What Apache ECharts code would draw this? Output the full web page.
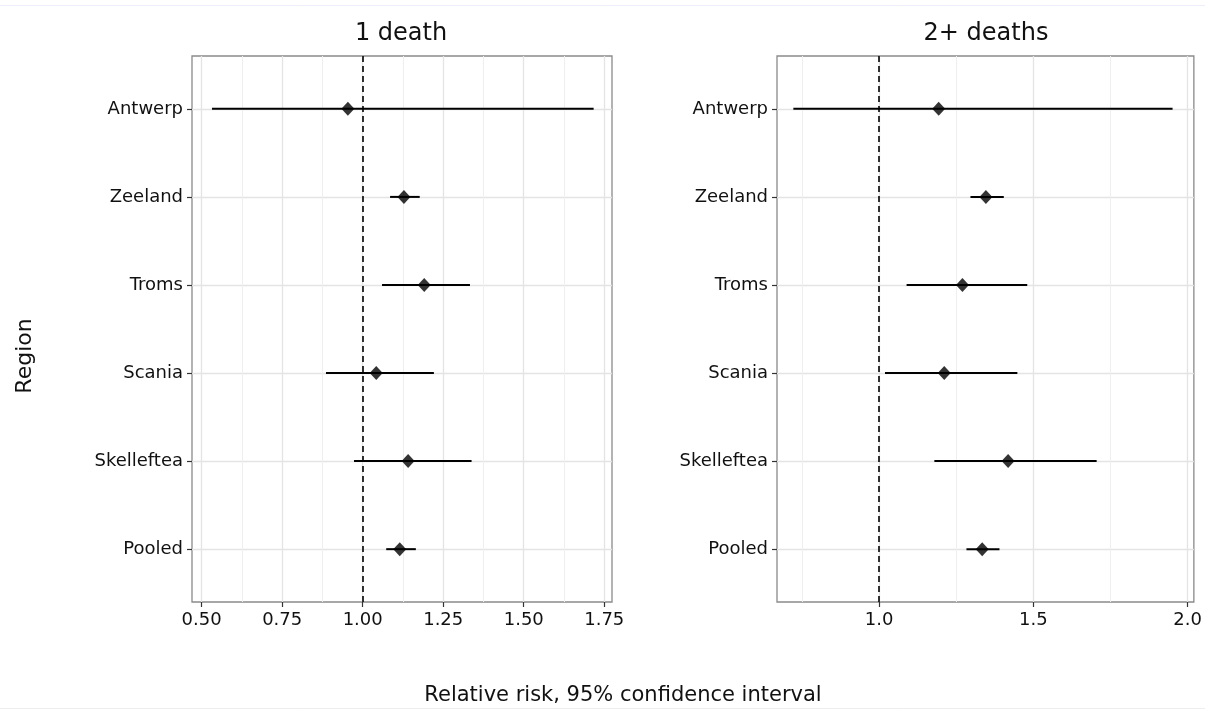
<!DOCTYPE html>
<html>
<head>
<meta charset="utf-8">
<script src="https://cdn.jsdelivr.net/npm/echarts@6/dist/echarts.min.js"></script>
<style>
  html, body { margin: 0; padding: 0; background: #fff; }
  #chart { width: 1205px; height: 710px; }
</style>
</head>
<body>
<div id="chart"></div>
<script>
// regions, top to bottom
var regions = ['Antwerp', 'Zeeland', 'Troms', 'Scania', 'Skelleftea', 'Pooled'];

// 1 death: relative risk and 95% CI
var est1 = [0.954, 1.128, 1.191, 1.042, 1.141, 1.115];
var low1 = [0.532, 1.085, 1.060, 0.886, 0.973, 1.073];
var high1 = [1.717, 1.177, 1.333, 1.221, 1.338, 1.165];

// 2+ deaths
var est2 = [1.193, 1.346, 1.270, 1.211, 1.418, 1.334];
var low2 = [0.722, 1.296, 1.089, 1.019, 1.179, 1.283];
var high2 = [1.951, 1.404, 1.480, 1.448, 1.705, 1.390];

var ticks1 = [0.5, 0.75, 1.0, 1.25, 1.5, 1.75];
var minor1 = [0.625, 0.875, 1.125, 1.375, 1.625];
var ticks2 = [1.0, 1.5, 2.0];
var minor2 = [0.75, 1.25, 1.75];
var regionIdx = [0, 1, 2, 3, 4, 5];

var FONT = 'DejaVu Sans';

function pairs(a, b) {
	var out = [];
	for (var i = 0; i < a.length; i++) out.push([a[i], b[i]]);
	return out;
}

function majorX(grid, min, max, ticks, digits) {
	return {
		type: 'value', gridIndex: grid, position: 'bottom', min: min, max: max,
		axisLine: { show: false, onZero: false },
		axisTick: { show: true, length: 5, customValues: ticks, lineStyle: { color: '#333', width: 1.2 } },
		axisLabel: {
			customValues: ticks, margin: 9, color: '#111', fontSize: 18, fontFamily: FONT,
			formatter: function (v) { return v.toFixed(digits); }
		},
		splitLine: { show: true, lineStyle: { color: '#e4e4e4', width: 1.3 } }
	};
}

function minorX(grid, min, max, ticks) {
	return {
		type: 'value', gridIndex: grid, position: 'bottom', min: min, max: max,
		axisLine: { show: false, onZero: false },
		axisTick: { show: false, customValues: ticks },
		axisLabel: { show: false, customValues: ticks },
		splitLine: { show: true, lineStyle: { color: '#efefef', width: 1 } }
	};
}

function regionY(grid) {
	return {
		type: 'value', gridIndex: grid, min: -0.6, max: 5.6, inverse: true,
		axisLine: { show: false, onZero: false },
		axisTick: { show: true, length: 5, customValues: regionIdx, lineStyle: { color: '#333', width: 1.2 } },
		axisLabel: {
			customValues: regionIdx, margin: 9, color: '#111', fontSize: 18, fontFamily: FONT,
			formatter: function (v) { return regions[v]; }
		},
		splitLine: { show: true, lineStyle: { color: '#e4e4e4', width: 1.3 } }
	};
}

function errorBars(xIdx, yIdx, low, high) {
	var data = [];
	for (var i = 0; i < low.length; i++) data.push([low[i], high[i], i]);
	return {
		type: 'custom', xAxisIndex: xIdx, yAxisIndex: yIdx, z: 3,
		encode: { x: [0, 1], y: 2 },
		data: data,
		renderItem: function (params, api) {
			var a = api.coord([api.value(0), api.value(2)]);
			var b = api.coord([api.value(1), api.value(2)]);
			return {
				type: 'line',
				shape: { x1: a[0], y1: a[1], x2: b[0], y2: b[1] },
				style: { stroke: '#000', lineWidth: 2 }
			};
		}
	};
}

function points(xIdx, yIdx, est) {
	return {
		type: 'scatter', xAxisIndex: xIdx, yAxisIndex: yIdx, z: 4,
		symbol: 'diamond', symbolSize: [13, 14],
		itemStyle: { color: '#000' },
		data: pairs(est, regionIdx),
		markLine: {
			silent: true, symbol: 'none', label: { show: false },
			lineStyle: { color: '#000', type: [6, 4], width: 1.6 },
			data: [{ xAxis: 1 }]
		}
	};
}

var chart = echarts.init(document.getElementById('chart'));

var option = {
	animation: false,
	backgroundColor: '#fff',
	textStyle: { fontFamily: FONT },
	title: [
		{ text: '1 death', left: 396, top: 17, textAlign: 'center',
		  textStyle: { fontSize: 24, fontWeight: 'normal', color: '#111', fontFamily: FONT } },
		{ text: '2+ deaths', left: 981, top: 17, textAlign: 'center',
		  textStyle: { fontSize: 24, fontWeight: 'normal', color: '#111', fontFamily: FONT } },
		{ text: 'Relative risk, 95% confidence interval', left: 618, top: 680, textAlign: 'center',
		  textStyle: { fontSize: 21, fontWeight: 'normal', color: '#111', fontFamily: FONT } }
	],
	graphic: [
		{ type: 'text', x: 25, y: 356, rotation: Math.PI / 2,
		  style: { text: 'Region', fontSize: 22, fill: '#111', fontFamily: FONT, align: 'center', verticalAlign: 'middle' } },
		{ type: 'line', shape: { x1: 0, y1: 5.5, x2: 1205, y2: 5.5 }, style: { stroke: '#eceffa', lineWidth: 1 } },
		{ type: 'line', shape: { x1: 0, y1: 708.5, x2: 1205, y2: 708.5 }, style: { stroke: '#eeeeee', lineWidth: 1 } }
	],
	grid: [
		{ left: 192, right: 593, top: 56, bottom: 108, show: true, borderColor: '#8a8a8a', borderWidth: 1.3, backgroundColor: '#fff' },
		{ left: 777, right: 8, top: 56, bottom: 108, show: true, borderColor: '#8a8a8a', borderWidth: 1.3, backgroundColor: '#fff' }
	],
	xAxis: [
		majorX(0, 0.47, 1.774, ticks1, 2),
		minorX(0, 0.47, 1.774, minor1),
		majorX(1, 0.669, 2.02, ticks2, 1),
		minorX(1, 0.669, 2.02, minor2)
	],
	yAxis: [regionY(0), regionY(1)],
	series: [
		errorBars(0, 0, low1, high1),
		points(0, 0, est1),
		errorBars(2, 1, low2, high2),
		points(2, 1, est2)
	]
};

chart.setOption(option);
</script>
</body>
</html>
